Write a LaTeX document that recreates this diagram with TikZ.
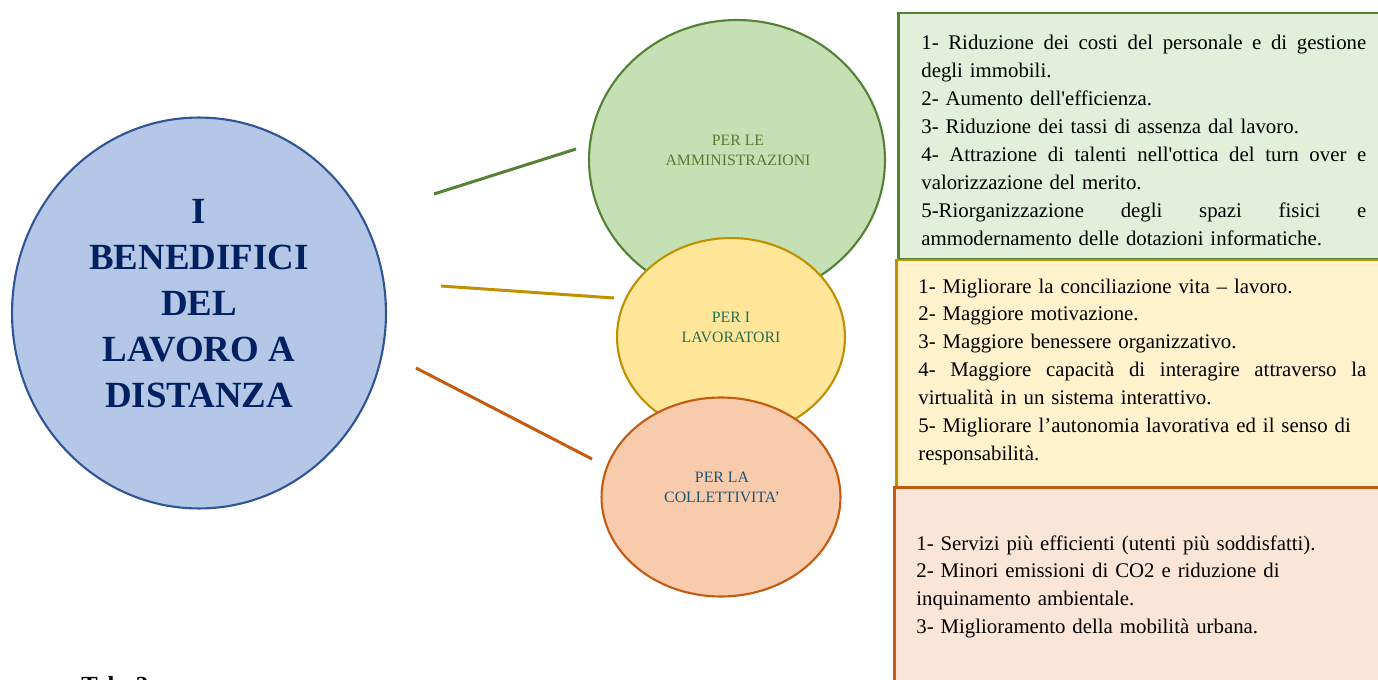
\documentclass[tikz,border=0pt]{standalone}
\usepackage{fontspec}
\setmainfont{Liberation Serif}
\usetikzlibrary{shapes.geometric}

\definecolor{bluF}{HTML}{B4C7E7}
\definecolor{bluD}{HTML}{2F5597}
\definecolor{bluT}{HTML}{002060}
\definecolor{verF}{HTML}{C5E0B4}
\definecolor{verD}{HTML}{548235}
\definecolor{verT}{HTML}{5B7A33}
\definecolor{verB}{HTML}{E2EFDA}
\definecolor{giaF}{HTML}{FFE699}
\definecolor{giaD}{HTML}{BF9000}
\definecolor{giaT}{HTML}{2A6E50}
\definecolor{giaB}{HTML}{FFF2CC}
\definecolor{araF}{HTML}{F8CBAD}
\definecolor{araD}{HTML}{C55A11}
\definecolor{araT}{HTML}{1F5574}
\definecolor{araB}{HTML}{FBE5D6}

\tikzstyle{hub}=[ellipse, draw=bluD, fill=bluF, line width=1.2pt, inner sep=0pt]
\tikzstyle{area}=[ellipse, line width=1.2pt, inner sep=0pt]
\tikzstyle{hub text}=[align=center, inner sep=0pt, anchor=base, text=bluT, font=\bfseries\fontsize{21}{26.1}\selectfont]
\tikzstyle{area text}=[align=center, inner sep=0pt, anchor=base, font=\fontsize{9}{11.3}\selectfont]
\tikzstyle{list}=[anchor=base west, inner sep=0pt, align=left, font=\fontsize{11.85}{15.9}\selectfont]
\tikzstyle{box}=[line width=1.7pt]
\tikzstyle{link}=[draw, line width=1.7pt, -]

\newcommand{\giusta}[2]{\leavevmode\hbox to #1{\spaceskip=0.25em plus 1fil\relax #2}}

\begin{document}
\begin{tikzpicture}[x=0.02cm, y=-0.02cm]
    \useasboundingbox (0,0) rectangle (1378,679);
    \clip (0,0) rectangle (1378,679);
    \fill[white] (0,0) rectangle (1378,679);

    % riquadri con gli elenchi
    \path[box, draw=verD, fill=verB] (898,13) rectangle (1400,259);
    \path[box, draw=giaD, fill=giaB] (896,260) rectangle (1400,487);
    \path[box, draw=araD, fill=araB] (894,487) rectangle (1400,720);

    \node[list, text width=8.9cm] (lamm) at (921,50) {%
        \giusta{8.9cm}{1- Riduzione dei costi del personale e di gestione}\\
        degli immobili.\\
        2- Aumento dell\textquotesingle efficienza.\\
        3- Riduzione dei tassi di assenza dal lavoro.\\
        \giusta{8.9cm}{4- Attrazione di talenti nell\textquotesingle ottica del turn over e}\\
        valorizzazione del merito.\\
        \giusta{8.9cm}{5-Riorganizzazione degli spazi fisici e}\\
        ammodernamento delle dotazioni informatiche.};
    \node[list, text width=8.96cm] (llav) at (918,293) {%
        1- Migliorare la conciliazione vita – lavoro.\\
        2- Maggiore motivazione.\\
        3- Maggiore benessere organizzativo.\\
        \giusta{8.96cm}{4- Maggiore capacità di interagire attraverso la}\\
        virtualità in un sistema interattivo.\\
        5- Migliorare l’autonomia lavorativa ed il senso di\\
        responsabilità.};
    \node[list, text width=9cm] (lcol) at (916,550) {%
        1- Servizi più efficienti (utenti più soddisfatti).\\
        2- Minori emissioni di CO2 e riduzione di\\
        inquinamento ambientale.\\
        3- Miglioramento della mobilità urbana.};

    % cerchio centrale
    \node[hub, minimum width=7.48cm, minimum height=7.82cm] (ben) at (199,313) {};
    \node[hub text] (tben) at (199,407) {I\\BENEDIFICI\\DEL\\LAVORO A\\DISTANZA};

    % ellissi dei destinatari
    \foreach \name/\pos/\fc/\dc/\w/\h in {{amm/(737,160)/verF/verD/5.92/5.6}, {lav/(731,337)/giaF/giaD/4.56/3.96}, {col/(721,497)/araF/araD/4.78/3.98}}
        \node[area, fill=\fc, draw=\dc, minimum width=\w cm, minimum height=\h cm] (\name) at \pos {};
    \foreach \name/\pos/\tc/\txt in {{tamm/(738,165)/verT/{PER LE\\AMMINISTRAZIONI}}, {tlav/(731,342)/giaT/{PER I\\LAVORATORI}}, {tcol/(722,502)/araT/{PER LA\\COLLETTIVITA’}}}
        \node[area text, text=\tc] (\name) at \pos {\txt};

    % linee
    \coordinate (a1) at (434,194);
    \coordinate (a2) at (576,149);
    \coordinate (b1) at (441,286);
    \coordinate (b2) at (614,298);
    \coordinate (c1) at (416,368);
    \coordinate (c2) at (592,459);
    \path[link, verD] (a1) -- (a2);
    \path[link, giaD] (b1) -- (b2);
    \path[link, araD] (c1) -- (c2);

    \node[anchor=base west, inner sep=0pt, font=\bfseries\fontsize{14}{16}\selectfont] (tab) at (81,693) {Tab. 2};
\end{tikzpicture}
\end{document}
